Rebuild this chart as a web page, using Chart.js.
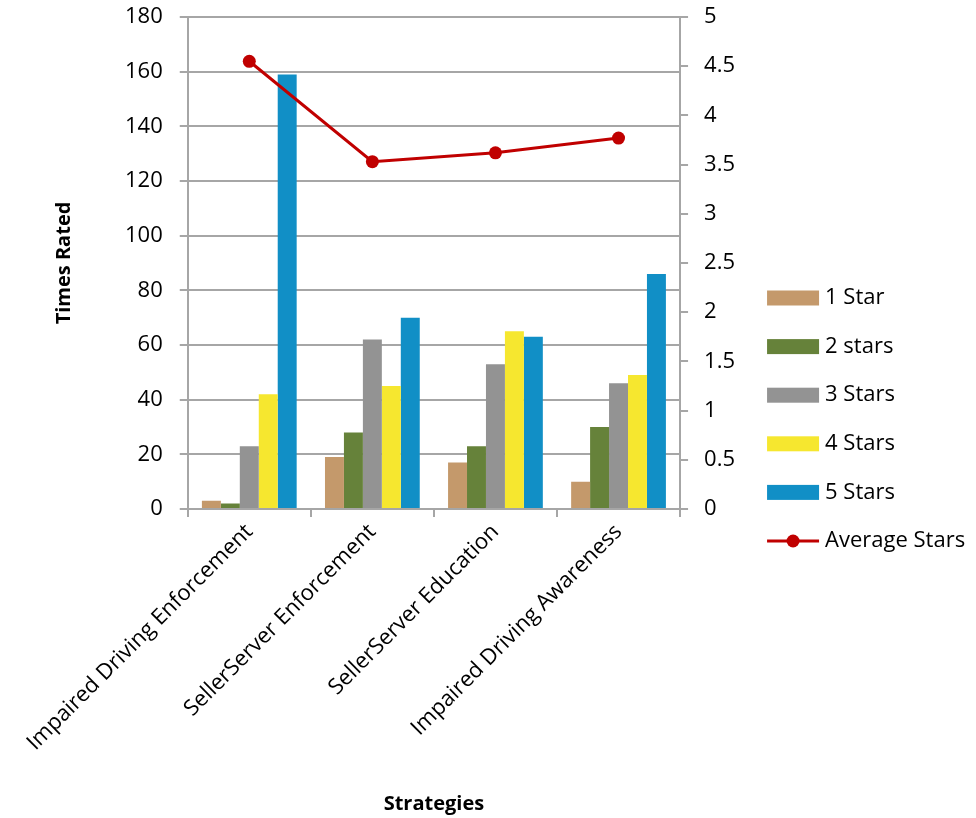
<!DOCTYPE html>
<html>
<head>
<meta charset="utf-8">
<script src="https://cdn.jsdelivr.net/npm/chart.js@4/dist/chart.umd.min.js"></script>
<style>
  html, body { margin: 0; padding: 0; background: #fff; }
  #wrap { width: 976px; height: 818px; }
</style>
</head>
<body>
<div id="wrap"><canvas id="chart" width="976" height="818"></canvas></div>
<script>
const categories = ["Impaired Driving Enforcement", "SellerServer Enforcement", "SellerServer Education", "Impaired Driving Awareness"];
const oneStar = [3, 19, 17, 10];
const twoStars = [2, 28, 23, 30];
const threeStars = [23, 62, 53, 46];
const fourStars = [42, 45, 65, 49];
const fiveStars = [159, 70, 63, 86];
const averageStars = [4.55, 3.53, 3.62, 3.77];

const barColors = ["#c4996b", "#66823a", "#939393", "#f6e72f", "#118fc6"];
const lineColor = "#c00000";
const gridColor = "#a6a6a6";
const fontFamily = "'Open Sans', sans-serif";

const barSets = [
    ["1 Star", oneStar],
    ["2 stars", twoStars],
    ["3 Stars", threeStars],
    ["4 Stars", fourStars],
    ["5 Stars", fiveStars]
];

const datasets = barSets.map((s, i) => ({
    type: "bar",
    label: s[0],
    data: s[1],
    backgroundColor: barColors[i],
    yAxisID: "y",
    categoryPercentage: 0.77,
    barPercentage: 1.0,
    order: 1
}));

datasets.push({
    type: "line",
    label: "Average Stars",
    data: averageStars,
    borderColor: lineColor,
    backgroundColor: lineColor,
    borderWidth: 3,
    pointRadius: 6.5,
    pointBackgroundColor: lineColor,
    pointBorderWidth: 0,
    yAxisID: "y2",
    tension: 0,
    order: 0
});

// legend drawn by hand, the built-in one gets squeezed next to two y axes
const sideLegend = {
    id: "sideLegend",
    afterDraw(chart) {
        const ctx = chart.ctx;
        const area = chart.chartArea;
        const x0 = area.right + 87;
        const y0 = 298;
        const step = 48.6;
        ctx.save();
        ctx.font = "22px " + fontFamily;
        ctx.textBaseline = "middle";
        ctx.textAlign = "left";
        chart.data.datasets.forEach((ds, i) => {
            const y = y0 + i * step;
            if (ds.type === "line") {
                ctx.strokeStyle = ds.borderColor;
                ctx.lineWidth = 3;
                ctx.beginPath();
                ctx.moveTo(x0, y);
                ctx.lineTo(x0 + 52, y);
                ctx.stroke();
                ctx.fillStyle = ds.borderColor;
                ctx.beginPath();
                ctx.arc(x0 + 26, y, 6.5, 0, Math.PI * 2);
                ctx.fill();
            } else {
                ctx.fillStyle = ds.backgroundColor;
                ctx.fillRect(x0, y - 7.5, 52, 15);
            }
            ctx.fillStyle = "#000";
            ctx.fillText(ds.label, x0 + 58, y);
        });
        ctx.restore();
    }
};

// tick padding also pads the top of a vertical axis, keep the top tight
function tightTop(scale) {
    scale.paddingTop = 17;
}

new Chart(document.getElementById("chart"), {
    data: {
        labels: categories,
        datasets: datasets
    },
    plugins: [sideLegend],
    options: {
        responsive: false,
        animation: false,
        layout: {
            padding: { left: 0, right: 225, top: 2, bottom: 0 }
        },
        plugins: {
            tooltip: { enabled: false },
            legend: { display: false }
        },
        scales: {
            x: {
                offset: true,
                grid: {
                    offset: true,
                    drawOnChartArea: false,
                    color: gridColor,
                    lineWidth: 2,
                    tickLength: 8
                },
                border: { color: gridColor, width: 2 },
                ticks: {
                    color: "#000",
                    minRotation: 45,
                    maxRotation: 45,
                    padding: 2,
                    font: { family: fontFamily, size: 22 }
                },
                title: {
                    display: true,
                    text: "Strategies",
                    color: "#000",
                    font: { family: fontFamily, size: 20, weight: "bold" },
                    padding: { top: 34, bottom: 2 }
                }
            },
            y: {
                position: "left",
                min: 0,
                max: 180,
                afterFit: tightTop,
                grid: {
                    color: gridColor,
                    lineWidth: 2,
                    tickLength: 8
                },
                border: { color: gridColor, width: 2 },
                ticks: {
                    stepSize: 20,
                    color: "#000",
                    padding: 17,
                    font: { family: fontFamily, size: 22 }
                },
                title: {
                    display: true,
                    text: "Times Rated",
                    color: "#000",
                    font: { family: fontFamily, size: 20, weight: "bold" },
                    padding: { top: 52, bottom: 45 }
                }
            },
            y2: {
                position: "right",
                min: 0,
                max: 5,
                afterFit: tightTop,
                grid: {
                    drawOnChartArea: false,
                    color: gridColor,
                    lineWidth: 2,
                    tickLength: 8
                },
                border: { color: gridColor, width: 2 },
                ticks: {
                    stepSize: 0.5,
                    color: "#000",
                    padding: 16,
                    font: { family: fontFamily, size: 22 },
                    callback: (v) => String(v)
                }
            }
        }
    }
});
</script>
</body>
</html>
